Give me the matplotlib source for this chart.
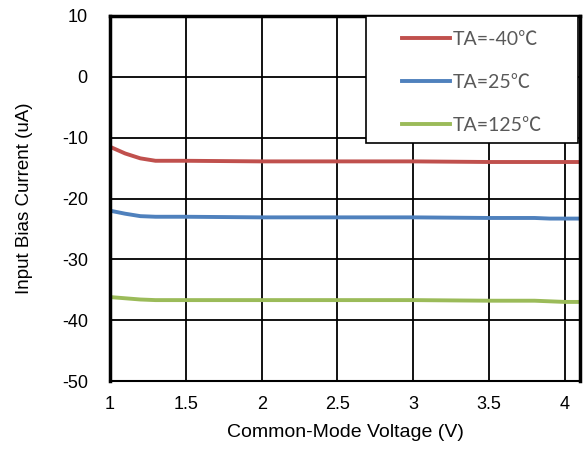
import matplotlib.pyplot as plt
from matplotlib.patches import Rectangle

# common-mode voltage (V)
vcm = [1.0, 1.1, 1.2, 1.3, 1.5, 2.0, 2.5, 3.0, 3.5, 3.8, 3.9, 4.0, 4.1]

# input bias current (uA) for each temperature
ib_m40 = [-11.5, -12.6, -13.4, -13.8, -13.8, -13.9, -13.9, -13.9, -14.0, -14.0, -14.0, -14.0, -14.0]
ib_25 = [-22.0, -22.5, -22.9, -23.0, -23.0, -23.1, -23.1, -23.1, -23.2, -23.2, -23.3, -23.3, -23.3]
ib_125 = [-36.2, -36.4, -36.6, -36.7, -36.7, -36.7, -36.7, -36.7, -36.8, -36.8, -36.9, -37.0, -37.0]

labels = ['TA=-40\u2103', 'TA=25\u2103', 'TA=125\u2103']
colors = ['#c0504d', '#4f81bd', '#9bbb59']

plt.rcParams['font.family'] = ['Liberation Sans', 'DejaVu Sans']
plt.rcParams['axes.unicode_minus'] = False

fig = plt.figure(figsize=(5.83, 4.49), dpi=100)
ax = fig.add_axes([0.1887, 0.1514, 0.995 - 0.1887, 0.9644 - 0.1514])

for y, c, lab in zip([ib_m40, ib_25, ib_125], colors, labels):
    ax.plot(vcm, y, color=c, lw=2.8, label=lab)

ax.set_xlim(1, 4.1)
ax.set_ylim(-50, 10)
ax.set_xticks([1, 1.5, 2, 2.5, 3, 3.5, 4])
ax.set_xticklabels(['1', '1.5', '2', '2.5', '3', '3.5', '4'])
ax.set_yticks(range(-50, 11, 10))
ax.grid(True, color='black', lw=1.3)
ax.set_axisbelow(True)
for s in ax.spines.values():
    s.set_linewidth(2.5)
ax.spines['bottom'].set_linewidth(1.5)
ax.tick_params(length=0, labelsize=13)
ax.tick_params(axis='y', pad=16)
ax.tick_params(axis='x', pad=11)
ax.set_xlabel('Common-Mode Voltage (V)', fontsize=14, va='center')
ax.set_ylabel('Input Bias Current (uA)', fontsize=13.5, va='center')
ax.xaxis.set_label_coords(0.5, -0.142)
ax.yaxis.set_label_coords(-0.181, 0.5)

# legend box drawn separately so its padding matches
ax.add_patch(Rectangle((0.545, 0.652), 0.451, 0.348, transform=ax.transAxes,
                       facecolor='white', edgecolor='black', lw=1.2, zorder=5))
leg = ax.legend(loc='center left', bbox_to_anchor=(0.621, 0.818), frameon=False,
                handlelength=2.45, handletextpad=0.15, labelspacing=1.32,
                borderpad=0, borderaxespad=0,
                prop={'family': ['Lato', 'Noto Sans CJK SC'], 'size': 14})
leg.set_zorder(6)
for t in leg.get_texts():
    t.set_color('#595959')

fig.savefig('out.png', dpi=100)
